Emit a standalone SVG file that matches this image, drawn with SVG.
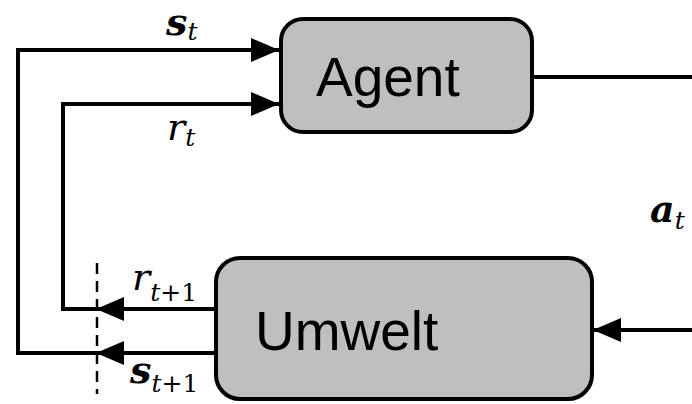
<svg xmlns="http://www.w3.org/2000/svg" width="692" height="404" viewBox="0 0 692 404">
<defs>
<style>
.box{fill:#bfbfbf;stroke:#000;stroke-width:4}
.lbl{font-family:"Liberation Sans",Arial,sans-serif;font-size:55px;fill:#000}
.ln{fill:none;stroke:#000;stroke-width:4}
.math{font-family:"DejaVu Serif",serif;font-style:italic;fill:#000;font-size:38px}
.b{font-weight:bold}
.sub{font-size:25px;font-weight:normal}
.up{font-style:normal}
</style>
<marker id="ah" markerWidth="28" markerHeight="24" refX="28" refY="12" orient="auto" markerUnits="userSpaceOnUse">
<path d="M0,0 L28,12 L0,24 Z" fill="#000"/>
</marker>
</defs>
<g id="connectors">
<polyline class="ln" points="215,353 18,353 18,50 279,50" marker-end="url(#ah)"/>
<polyline class="ln" points="215,309 63,309 63,104 279,104" marker-end="url(#ah)"/>
<line class="ln" x1="215" y1="309" x2="96" y2="309" marker-end="url(#ah)"/>
<line class="ln" x1="215" y1="353" x2="96" y2="353" marker-end="url(#ah)"/>
<line class="ln" x1="533" y1="77" x2="692" y2="77"/>
<line class="ln" x1="692" y1="330" x2="593" y2="330" marker-end="url(#ah)"/>
<line x1="97" y1="263" x2="97" y2="394" stroke="#000" stroke-width="2.5" stroke-dasharray="11,7"/>
</g>
<g id="agent">
<rect class="box" x="281" y="19" width="251" height="113" rx="22"/>
<text class="lbl" x="316" y="96">Agent</text>
</g>
<g id="umwelt">
<rect class="box" x="216" y="258" width="376" height="141" rx="24"/>
<text class="lbl" x="255" y="350">Umwelt</text>
</g>
<g id="labels">
<text class="math" x="166" y="35"><tspan class="b">s</tspan><tspan class="sub" dy="5">t</tspan></text>
<text class="math" x="167" y="140">r<tspan class="sub" dy="6">t</tspan></text>
<text class="math" x="132" y="290">r<tspan class="sub" dy="11">t</tspan><tspan class="sub up">+1</tspan></text>
<text class="math" x="130" y="383"><tspan class="b">s</tspan><tspan class="sub" dy="9">t</tspan><tspan class="sub up">+1</tspan></text>
<text class="math" x="650" y="222"><tspan class="b">a</tspan><tspan class="sub" dy="7">t</tspan></text>
</g>
</svg>
